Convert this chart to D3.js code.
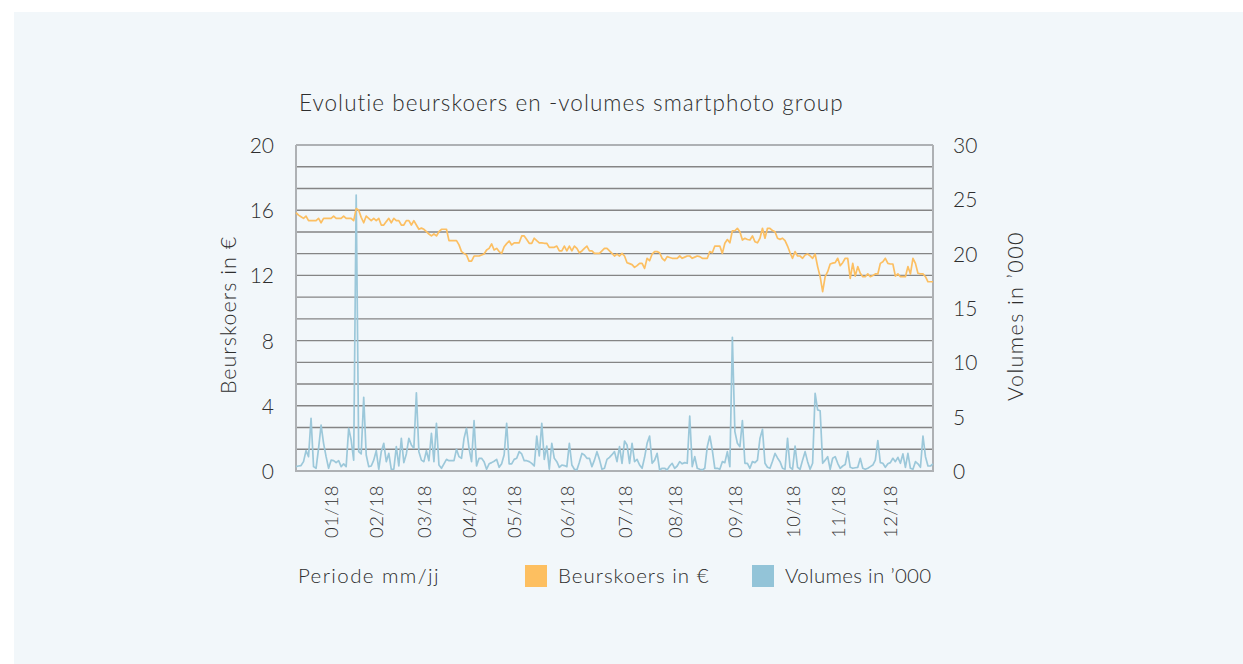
<!DOCTYPE html>
<html>
<head>
<meta charset="utf-8">
<script src="https://cdnjs.cloudflare.com/ajax/libs/d3/7.8.5/d3.min.js"></script>
<style>
  body { margin: 0; background: #ffffff; }
  svg text { font-family: Lato, "Open Sans", sans-serif; font-weight: 300; fill: #2e2e2e;
             font-variant-ligatures: none; }
</style>
</head>
<body>
<svg id="chart" width="1243" height="664"></svg>
<script>

// daily closing price (EUR), one value per trading day 2018
var koers = [
  15.85, 15.7, 15.6, 15.5, 15.64, 15.36, 15.36, 15.36, 15.36, 15.5,
  15.23, 15.5, 15.5, 15.5, 15.5, 15.64, 15.5, 15.5, 15.5, 15.64,
  15.5, 15.5, 15.5, 15.36, 16.1, 16.0, 15.56, 15.23, 15.64, 15.5,
  15.36, 15.5, 15.36, 15.5, 15.09, 15.09, 15.3, 15.5, 15.23, 15.5,
  15.36, 15.36, 15.09, 15.09, 15.36, 15.36, 15.09, 15.36, 15.09, 14.83,
  14.9, 14.83, 14.68, 14.54, 14.42, 14.54, 14.42, 14.68, 14.83, 14.83,
  14.83, 14.13, 14.13, 14.13, 14.13, 13.87, 13.46, 13.35, 13.25, 12.88,
  12.88, 13.19, 13.19, 13.19, 13.25, 13.31, 13.56, 13.66, 13.93, 13.56,
  13.66, 13.46, 13.35, 13.76, 13.95, 14.11, 13.87, 14.0, 14.0, 14.0,
  14.42, 14.42, 14.2, 13.97, 13.97, 14.28, 14.13, 14.0, 14.0, 13.97,
  13.97, 13.72, 13.72, 13.72, 13.8, 13.51, 13.51, 13.8, 13.51, 13.8,
  13.51, 13.8, 13.66, 13.39, 13.5, 13.66, 13.8, 13.51, 13.51, 13.35,
  13.35, 13.35, 13.51, 13.66, 13.66, 13.5, 13.35, 13.19, 13.31, 13.19,
  13.35, 13.19, 12.78, 12.72, 12.66, 12.49, 12.6, 12.74, 12.74, 12.43,
  13.05, 12.9, 13.31, 13.46, 13.46, 13.39, 13.05, 12.9, 13.15, 13.1,
  13.05, 13.05, 13.05, 13.19, 13.05, 13.12, 13.19, 13.19, 13.05, 13.12,
  13.19, 13.15, 13.05, 13.05, 13.05, 13.46, 13.39, 13.8, 13.8, 13.8,
  13.35, 13.97, 14.2, 14.0, 14.74, 14.74, 14.89, 14.68, 14.17, 14.28,
  14.2, 14.17, 14.42, 14.07, 14.0, 14.28, 14.89, 14.28, 14.89, 14.89,
  14.75, 14.68, 14.28, 14.21, 14.28, 14.13, 13.8, 13.39, 13.05, 13.46,
  13.19, 13.19, 13.05, 13.25, 13.31, 13.2, 13.05, 13.31, 12.54, 11.92,
  11.0, 11.92, 12.23, 12.7, 12.75, 12.78, 13.05, 12.6, 12.78, 13.05,
  13.05, 11.82, 12.74, 11.96, 12.54, 12.13, 11.92, 11.92, 12.09, 11.92,
  12.0, 12.09, 12.09, 12.74, 12.84, 13.05, 12.74, 12.7, 12.7, 11.96,
  12.09, 11.92, 11.92, 11.92, 12.54, 12.09, 13.05, 12.74, 12.13, 12.09,
  12.09, 11.92, 11.61, 11.61, 11.61
];

// daily traded volume (x 1000 shares)
var volumes = [
  0.4, 0.46, 0.5, 0.86, 1.87, 1.32, 4.85, 0.4, 0.25, 2.09,
  4.23, 2.55, 1.32, 0.25, 1.0, 0.95, 0.77, 0.95, 0.4, 0.66,
  0.4, 3.93, 2.85, 1.0, 25.4, 1.78, 1.57, 6.78, 1.47, 0.4,
  0.46, 1.0, 1.87, 0.16, 1.78, 2.55, 0.86, 1.62, 0.16, 0.16,
  2.24, 0.46, 3.0, 0.77, 1.57, 3.0, 2.4, 2.09, 7.2, 1.78,
  1.0, 0.86, 1.87, 0.95, 3.47, 0.86, 4.39, 0.55, 0.25, 0.66,
  1.07, 0.95, 0.95, 0.95, 2.0, 1.32, 1.17, 3.0, 3.93, 2.09,
  0.86, 4.63, 0.46, 1.17, 1.17, 0.86, 0.16, 0.66, 0.77, 0.9,
  1.07, 0.34, 0.66, 1.5, 4.39, 0.66, 0.66, 1.07, 1.17, 1.78,
  1.57, 0.95, 0.95, 0.86, 0.7, 0.46, 3.22, 1.38, 4.39, 1.07,
  2.3, 0.16, 2.55, 1.17, 0.86, 0.34, 0.55, 0.5, 0.4, 2.55,
  0.55, 0.16, 0.1, 0.8, 1.62, 1.47, 1.17, 1.17, 0.4, 1.0,
  1.78, 1.07, 0.16, 0.25, 1.07, 1.26, 1.5, 1.78, 0.86, 2.24,
  0.71, 2.76, 2.4, 0.71, 2.55, 0.86, 1.07, 0.55, 0.25, 1.26,
  2.55, 3.22, 0.71, 1.0, 1.62, 0.1, 0.25, 0.25, 0.1, 0.46,
  0.71, 0.25, 0.46, 0.86, 0.66, 0.77, 0.71, 5.06, 0.4, 1.32,
  0.25, 0.16, 0.1, 0.25, 2.24, 3.22, 1.93, 0.25, 0.25, 0.16,
  0.86, 0.77, 1.78, 0.4, 12.3, 3.62, 2.55, 2.24, 4.63, 0.71,
  0.71, 0.25, 0.86, 0.77, 1.0, 3.0, 3.83, 0.71, 0.34, 0.25,
  0.9, 1.62, 1.2, 0.86, 0.25, 0.16, 3.0, 0.34, 0.16, 2.3,
  0.34, 0.16, 1.0, 1.78, 0.86, 0.16, 0.71, 7.15, 5.62, 5.55,
  0.71, 1.0, 1.32, 0.16, 1.17, 1.32, 0.71, 0.25, 0.46, 0.6,
  1.78, 0.34, 0.25, 0.3, 0.34, 1.17, 0.25, 0.16, 0.25, 0.4,
  0.55, 1.0, 2.79, 0.77, 0.71, 0.34, 0.66, 0.77, 1.17, 0.86,
  1.26, 0.71, 1.57, 0.34, 1.62, 0.25, 0.16, 0.86, 0.66, 0.34,
  3.22, 1.32, 0.46, 0.46, 0.66
];

// month labels and the trading day they sit on
var maandLabels = ["01/18", "02/18", "03/18", "04/18", "05/18", "06/18",
                   "07/18", "08/18", "09/18", "10/18", "11/18", "12/18"];
var maandDag = [14, 32, 51, 69, 87, 108, 131, 151, 175, 198, 216, 237];

var koersTicks = [0, 4, 8, 12, 16, 20];
var volumeTicks = [0, 5, 10, 15, 20, 25, 30];

var svg = d3.select("#chart");

// light panel behind everything
svg.append("rect")
  .attr("x", 14).attr("y", 12)
  .attr("width", 1243 - 14).attr("height", 664 - 12)
  .attr("fill", "#f2f7fa");

var plot = { left: 296, right: 933, top: 145, bottom: 471 };

var x = d3.scaleLinear()
  .domain([0, koers.length - 1])
  .range([plot.left, plot.right]);

var yKoers = d3.scaleLinear().domain([0, 20]).range([plot.bottom, plot.top]);
var yVol = d3.scaleLinear().domain([0, 30]).range([plot.bottom, plot.top]);

// ========================================================
// grid: 15 lines, 3 per price step
var gridVals = d3.range(0, 20.01, 20 / 15);
svg.append("g")
  .selectAll("line")
  .data(gridVals)
  .enter().append("line")
  .attr("x1", plot.left).attr("x2", plot.right)
  .attr("y1", function (d) { return yKoers(d); })
  .attr("y2", function (d) { return yKoers(d); })
  .attr("stroke", function (d, i) { return (i === 0 || i === 15) ? "#aeb1b4" : "#858585"; })
  .attr("stroke-width", function (d, i) { return (i === 0 || i === 15) ? 2 : 1.4; });

// frame sides
[plot.left, plot.right].forEach(function (xx) {
  svg.append("line")
    .attr("x1", xx).attr("x2", xx)
    .attr("y1", plot.top).attr("y2", plot.bottom + 1)
    .attr("stroke", "#aeb1b4").attr("stroke-width", 2);
});

// ========================================================
// left axis (price)
var leftAxis = svg.append("g")
  .attr("transform", "translate(" + (plot.left - 22) + ",0)")
  .call(d3.axisLeft(yKoers).tickValues(koersTicks).tickSize(0).tickPadding(0));
leftAxis.select(".domain").remove();
leftAxis.selectAll("text")
  .attr("font-size", 21).attr("dy", "0.36em");

// right axis (volumes)
var rightAxis = svg.append("g")
  .attr("transform", "translate(" + (plot.right + 20) + ",0)")
  .call(d3.axisRight(yVol).tickValues(volumeTicks).tickSize(0).tickPadding(0));
rightAxis.select(".domain").remove();
rightAxis.selectAll("text")
  .attr("font-size", 21).attr("dy", "0.36em");

// month labels, rotated
var xAxis = svg.append("g")
  .attr("transform", "translate(0," + (plot.bottom + 14) + ")")
  .call(d3.axisBottom(x).tickValues(maandDag)
    .tickFormat(function (d, i) { return maandLabels[i]; })
    .tickSize(0).tickPadding(0));
xAxis.select(".domain").remove();
xAxis.selectAll("text")
  .attr("font-size", 18.5)
  .attr("letter-spacing", 0.4)
  .attr("text-anchor", "end")
  .attr("dy", "0.35em")
  .attr("y", 0)
  .attr("transform", "rotate(-90)");

// ========================================================
// lines
var volLine = d3.line()
  .x(function (d, i) { return x(i); })
  .y(function (d) { return yVol(d); });

var koersLine = d3.line()
  .x(function (d, i) { return x(i); })
  .y(function (d) { return yKoers(d); });

svg.append("path")
  .datum(volumes)
  .attr("d", volLine)
  .attr("fill", "none")
  .attr("stroke", "#9cc8da")
  .attr("stroke-width", 1.7)
  .attr("stroke-linejoin", "round");

svg.append("path")
  .datum(koers)
  .attr("d", koersLine)
  .attr("fill", "none")
  .attr("stroke", "#fcbf62")
  .attr("stroke-width", 1.7)
  .attr("stroke-linejoin", "round");

// ========================================================
// titles
svg.append("text")
  .attr("x", 299).attr("y", 111)
  .attr("font-size", 22.5)
  .attr("letter-spacing", 1.05)
  .text("Evolutie beurskoers en -volumes smartphoto group");

svg.append("text")
  .attr("transform", "translate(236,315) rotate(-90)")
  .attr("text-anchor", "middle")
  .attr("font-size", 21.5)
  .attr("letter-spacing", 1)
  .text("Beurskoers in €");

svg.append("text")
  .attr("transform", "translate(1023,316) rotate(-90)")
  .attr("text-anchor", "middle")
  .attr("font-size", 21.5)
  .attr("letter-spacing", 1.4)
  .text("Volumes in \u2019000");

// ========================================================
// legend
svg.append("text")
  .attr("x", 298).attr("y", 583)
  .attr("font-size", 20.5)
  .attr("letter-spacing", 1.4)
  .text("Periode mm/jj");

var legend = [
  { naam: "Beurskoers in €", kleur: "#fdbf60", x: 525, ls: 1 },
  { naam: "Volumes in \u2019000", kleur: "#93c4d8", x: 752, ls: 0.3 }
];
legend.forEach(function (item) {
  svg.append("rect")
    .attr("x", item.x).attr("y", 565)
    .attr("width", 22).attr("height", 22)
    .attr("fill", item.kleur);
  svg.append("text")
    .attr("x", item.x + 33).attr("y", 583)
    .attr("font-size", 20.5)
    .attr("letter-spacing", item.ls)
    .text(item.naam);
});

</script>
</body>
</html>
